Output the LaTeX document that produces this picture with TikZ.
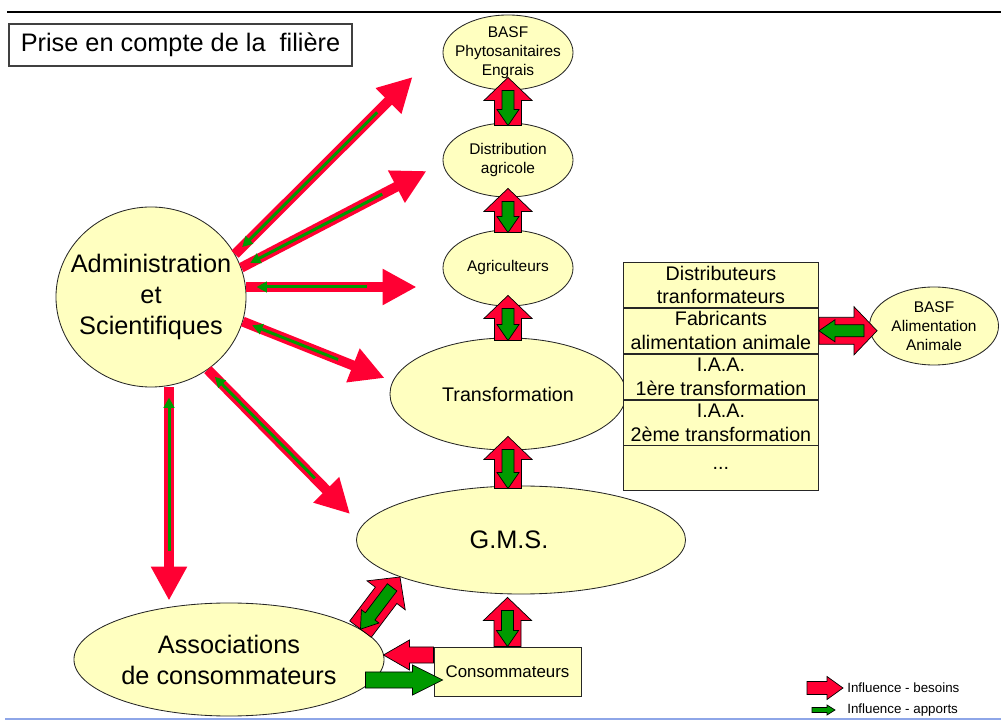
\documentclass[tikz,border=0pt]{standalone}
\usepackage{fontspec}
\setmainfont{Liberation Sans}
\usetikzlibrary{shapes.geometric,arrows.meta,calc,positioning}

\definecolor{jaunepale}{HTML}{FFFFC0}
\definecolor{rougeinf}{HTML}{FF0033}
\definecolor{vertinf}{HTML}{009A00}
\definecolor{bleutrait}{HTML}{8EA6E8}

\tikzset{
  bulle/.style={ellipse, draw=black!85, fill=jaunepale, line width=0.6pt, inner sep=0pt},
  boite/.style={rectangle, draw=black!85, fill=jaunepale, line width=0.6pt, inner sep=0pt, align=center},
  cellule/.style={boite, minimum width=48.75mm, minimum height=11.25mm, font=\fontsize{14}{17}\selectfont},
  petit/.style={align=center, font=\fontsize{11}{13.5}\selectfont},
  moyen/.style={align=center, font=\fontsize{14}{17}\selectfont},
  grand/.style={align=center, font=\fontsize{18}{22}\selectfont},
  legende/.style={inner sep=0pt, font=\fontsize{9.5}{11}\selectfont},
  besoin/.style={draw=rougeinf, line width=2.5mm, -{Triangle[width=8.5mm,length=8.5mm]}},
  apport/.style={draw=vertinf, line width=0.75mm, -{Triangle[width=2.6mm,length=2.6mm]}},
  rougebloc/.style={fill=rougeinf, draw=black, line width=0.5pt},
  vertbloc/.style={fill=vertinf, draw=black, line width=0.5pt},
}

% fleche pleine : style, depart, pointe, demi-corps, demi-tete, longueur tete
\newcommand{\flechebloc}[6]{%
  \coordinate (fb-a) at (#2);
  \coordinate (fb-b) at (#3);
  \coordinate (fb-n) at ($(fb-b)!#6!(fb-a)$);
  \filldraw[#1] ($(fb-a)!#4!90:(fb-b)$) -- ($(fb-n)!#4!90:(fb-b)$) -- ($(fb-n)!#5!90:(fb-b)$)
    -- (fb-b) -- ($(fb-n)!#5!-90:(fb-b)$) -- ($(fb-n)!#4!-90:(fb-b)$) -- ($(fb-a)!#4!-90:(fb-b)$) -- cycle;
}
% besoin (rouge) vers le haut, apport (vert) en retour
\newcommand{\doublefleche}[2]{%
  \coordinate (df-a) at (#1);
  \coordinate (df-b) at (#2);
  \flechebloc{rougebloc}{df-a}{df-b}{3.375mm}{6mm}{5.75mm}
  \flechebloc{vertbloc}{$(df-b)!3.25mm!(df-a)$}{df-a}{1.5mm}{2.75mm}{4mm}
}
% influence de l'administration
\newcommand{\influence}[2]{%
  \coordinate (in-a) at (#1);
  \coordinate (in-b) at (#2);
  \draw[besoin] (in-a) -- (in-b);
  \draw[apport] ($(in-b)!12.5mm!(in-a)$) -- ($(in-a)!2.5mm!(in-b)$);
}

\begin{document}
\begin{tikzpicture}[x=0.025cm, y=-0.025cm]
  \useasboundingbox (0,0) rectangle (1001,720);
  % Traits haut et bas
  \draw[line width=1pt] (7,12) -- (1001,12);
  \draw[bleutrait, line width=1.4pt] (5,719) -- (1001,719);
  % Titre
  \node[rectangle, draw=black!75, line width=0.8pt, minimum width=85.75mm, minimum height=10.5mm, inner sep=0pt, font=\fontsize{18}{22}\selectfont] (titre) at (180.5,45) {Prise en compte de la\ \ filière};
  % Chaine verticale
  \node[bulle, minimum width=32.5mm, minimum height=18.75mm, label={[petit]center:BASF\\Phytosanitaires\\Engrais}] (basf) at (508,52.5) {};
  \node[bulle, minimum width=32.5mm, minimum height=18.5mm, label={[petit]center:Distribution\\agricole}] (distrib) at (508,160) {};
  \node[bulle, minimum width=32.5mm, minimum height=19mm, label={[petit]center:Agriculteurs}] (agri) at (508,268) {};
  \node[bulle, minimum width=59mm, minimum height=28mm, label={[moyen]center:Transformation}] (transfo) at (508,394) {};
  \node[bulle, minimum width=82.25mm, minimum height=27mm, label={[grand, xshift=-3mm]center:G.M.S.}] (gms) at (521,540) {};
  % Acteurs a gauche
  \node[bulle, minimum width=47.5mm, minimum height=45mm, label={[grand]center:Administration\\et\\Scientifiques}] (adm) at (151,297) {};
  \node[bulle, minimum width=77.5mm, minimum height=28.25mm, label={[grand]center:Associations\\de consommateurs}] (assoc) at (229,659.5) {};
  \node[boite, minimum width=36.75mm, minimum height=12.25mm, font=\fontsize{12}{14}\selectfont] (conso) at (507.5,671.5) {Consommateurs};
  % Tableau des transformateurs
  \node[cellule, anchor=north west] (r1) at (623,262) {Distributeurs\\tranformateurs};
  \node[cellule, below=0pt of r1] (r2) {Fabricants\\alimentation animale};
  \node[cellule, below=0pt of r2] (r3) {I.A.A.\\1ère transformation};
  \node[cellule, below=0pt of r3] (r4) {I.A.A.\\2ème transformation};
  \node[cellule, below=0pt of r4] (r5) {...};
  \node[bulle, minimum width=32.25mm, minimum height=19.5mm, label={[petit]center:BASF\\Alimentation\\Animale}] (basfalim) at (934,326) {};
  % Influences de l'administration
  \coordinate (vers-basf) at ($(basf.west)+(-30,24.5)$);
  \coordinate (vers-distrib) at ($(distrib.west)+(-16,11)$);
  \coordinate (vers-agri) at ($(agri.west)+(-26,19)$);
  \coordinate (vers-transfo) at ($(transfo.west)+(-5,-16)$);
  \coordinate (vers-gms) at ($(gms.west)+(-6,-26)$);
  \coordinate (vers-assoc) at ($(assoc.north)+(-60,-2)$);
  \influence{adm.27}{vers-basf}
  \influence{adm.18}{vers-distrib}
  \influence{$(adm.east)+(0,-10)$}{vers-agri}
  \influence{adm.345}{vers-transfo}
  \influence{adm.308}{vers-gms}
  \influence{$(adm.south)+(18,0)$}{vers-assoc}
  % Chaine des besoins et apports
  \doublefleche{$(distrib.north)+(0,3)$}{$(basf.south)+(0,-13)$}
  \doublefleche{$(agri.north)+(0,3)$}{$(distrib.south)+(0,-9)$}
  \doublefleche{$(transfo.north)+(0,3)$}{$(agri.south)+(0,-11)$}
  \doublefleche{$(transfo.south |- gms.north)+(0,3)$}{$(transfo.south)+(0,-14)$}
  \doublefleche{conso.north}{$(conso.north |- gms.south)+(0,3)$}
  \doublefleche{assoc.13}{gms.197}
  \doublefleche{r2.east}{$(r2.east -| basfalim.west)+(8,0)$}
  % Consommateurs et associations
  \flechebloc{rougebloc}{$(conso.west)+(0,-16.5)$}{$(assoc.east)+(-1,-4.5)$}{2mm}{3.75mm}{6.5mm}
  \flechebloc{vertbloc}{$(assoc.east)+(-19,20.5)$}{$(conso.west)+(9,8.5)$}{2mm}{3.75mm}{7.5mm}
  % Legende
  \node[legende, anchor=west] (lbesoins) at (847,688) {Influence - besoins};
  \node[legende, anchor=west] (lapports) at (847,710) {Influence - apports};
  \flechebloc{rougebloc}{$(lbesoins.west)+(-40,0)$}{$(lbesoins.west)+(-4,0)$}{1.625mm}{2.875mm}{4mm}
  \flechebloc{vertbloc}{$(lapports.west)+(-35,0)$}{$(lapports.west)+(-12,0)$}{0.625mm}{1.25mm}{2mm}
\end{tikzpicture}
\end{document}
